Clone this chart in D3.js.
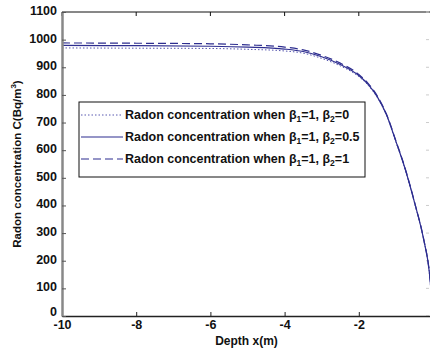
<!DOCTYPE html>
<html>
<head>
<meta charset="utf-8">
<script src="https://cdn.jsdelivr.net/npm/d3@7"></script>
<style>
  body { margin: 0; background: #fff; }
  svg { display: block; font-family: "Liberation Sans", Arial, sans-serif; }
</style>
</head>
<body>
<div id="chart"></div>
<script>
// depth values (m) and the three concentration curves
var depth = [-10, -8, -6, -5, -4, -3.5, -3, -2.5, -2, -1.75, -1.5, -1.25, -1, -0.75, -0.5, -0.25, -0.1, 0];
var beta2_0   = [970, 969, 968, 965, 959, 951, 932, 905, 866, 835, 790, 725, 630, 530, 410, 275, 160, 0];
var beta2_05  = [979, 978, 976, 973, 966, 957, 938, 910, 870, 838, 793, 727, 632, 532, 412, 276, 160, 0];
var beta2_1   = [988, 987, 985, 981, 973, 963, 943, 915, 874, 842, 796, 729, 634, 534, 413, 277, 161, 0];
var xTicks = [-10, -8, -6, -4, -2];
var yTicks = [0, 100, 200, 300, 400, 500, 600, 700, 800, 900, 1000, 1100];
var legendItems = [
  {b2: "0", data: beta2_0, dash: "1.5,2", width: 1, color: "#5858b0"},
  {b2: "0.5", data: beta2_05, dash: null, width: 1.2, color: "#2d2d8f"},
  {b2: "1", data: beta2_1, dash: "8,4", width: 1.2, color: "#2d2d8f"}
];

var svgWidth = 430, svgHeight = 355;
var margin = {top: 12, right: -3, bottom: 39, left: 62};
var width = svgWidth - margin.left - margin.right;
var height = svgHeight - margin.top - margin.bottom;

var svg = d3.select("#chart").append("svg")
  .attr("width", svgWidth)
  .attr("height", svgHeight);

var g = svg.append("g")
  .attr("transform", "translate(" + margin.left + "," + margin.top + ")");

var x = d3.scaleLinear().domain([-10, 0]).range([0, width]);
var y = d3.scaleLinear().domain([0, 1100]).range([height, 0]);

var fmt = d => String(d);

// top border and top ticks
g.append("line").attr("x1", 0).attr("x2", width).attr("y1", 0).attr("y2", 0)
  .attr("stroke", "#111").attr("stroke-width", 1);
g.selectAll(".ttick").data(xTicks).enter().append("line")
  .attr("x1", d => x(d)).attr("x2", d => x(d)).attr("y1", 0).attr("y2", 4)
  .attr("stroke", "#111");

// right side faint ticks
g.selectAll(".rtick").data(yTicks).enter().append("line")
  .attr("x1", width - 4).attr("x2", width - 7).attr("y1", d => y(d)).attr("y2", d => y(d))
  .attr("stroke", "#ccc");

// curves
var line = d3.line()
  .x((d, i) => x(depth[i]))
  .y(d => y(d))
  .curve(d3.curveMonotoneX);

legendItems.forEach(function(s) {
  g.append("path")
    .datum(s.data)
    .attr("fill", "none")
    .attr("stroke", s.color)
    .attr("stroke-width", s.width)
    .attr("stroke-dasharray", s.dash)
    .attr("d", line);
});

// bottom axis
var xAxis = g.append("g")
  .attr("transform", "translate(0," + height + ")")
  .call(d3.axisBottom(x).tickValues(xTicks).tickFormat(fmt)
    .tickSizeInner(-4).tickSizeOuter(0).tickPadding(4));
xAxis.select(".domain").attr("stroke", "#222").attr("stroke-width", 1.5);
xAxis.selectAll(".tick line").attr("stroke", "#222");
xAxis.selectAll("text")
  .attr("font-size", "12.5px").attr("font-weight", "bold").attr("fill", "#111");

// left axis
var yAxis = g.append("g")
  .call(d3.axisLeft(y).tickValues(yTicks).tickFormat(fmt)
    .tickSizeInner(-4).tickSizeOuter(0).tickPadding(5));
yAxis.select(".domain").attr("stroke", "#888").attr("stroke-width", 2.5);
yAxis.selectAll(".tick line").attr("stroke", "#555");
yAxis.selectAll("text")
  .attr("font-size", "12.5px").attr("font-weight", "bold").attr("fill", "#111")
  .attr("dy", d => d === 0 ? "-0.05em" : "0.2em");

// axis labels
svg.append("text")
  .attr("x", margin.left + width / 2 - 1)
  .attr("y", 345)
  .attr("text-anchor", "middle")
  .attr("font-size", "12px").attr("font-weight", "bold").attr("fill", "#111")
  .text("Depth x(m)");

var yl = svg.append("text")
  .attr("transform", "translate(21," + (margin.top + height / 2) + ") rotate(-90)")
  .attr("text-anchor", "middle")
  .attr("font-size", "11.5px").attr("font-weight", "bold").attr("fill", "#111");
yl.append("tspan").text("Radon concentration C(Bq/m");
yl.append("tspan").attr("font-size", "8px").attr("dy", "-0.6em").text("3");
yl.append("tspan").attr("dy", "0.45em").text(")");

// legend
var lg = svg.append("g").attr("transform", "translate(79,102)");
lg.append("rect").attr("width", 286).attr("height", 75)
  .attr("fill", "#fff").attr("stroke", "#111").attr("stroke-width", 1);

legendItems.forEach(function(s, i) {
  var cy = 13 + i * 22;
  lg.append("line")
    .attr("x1", 2).attr("x2", 44).attr("y1", cy).attr("y2", cy)
    .attr("stroke", s.color)
    .attr("stroke-width", s.width)
    .attr("stroke-dasharray", s.dash);
  var t = lg.append("text")
    .attr("x", 46).attr("y", cy + 4)
    .attr("font-size", "12.5px").attr("font-weight", "bold").attr("fill", "#111");
  t.append("tspan").text("Radon concentration when \u03b2");
  t.append("tspan").attr("font-size", "8.5px").attr("dy", "0.35em").text("1");
  t.append("tspan").attr("dy", "-0.25em").text("=1, \u03b2");
  t.append("tspan").attr("font-size", "8.5px").attr("dy", "0.35em").text("2");
  t.append("tspan").attr("dy", "-0.25em").text("=" + s.b2);
});
</script>
</body>
</html>
